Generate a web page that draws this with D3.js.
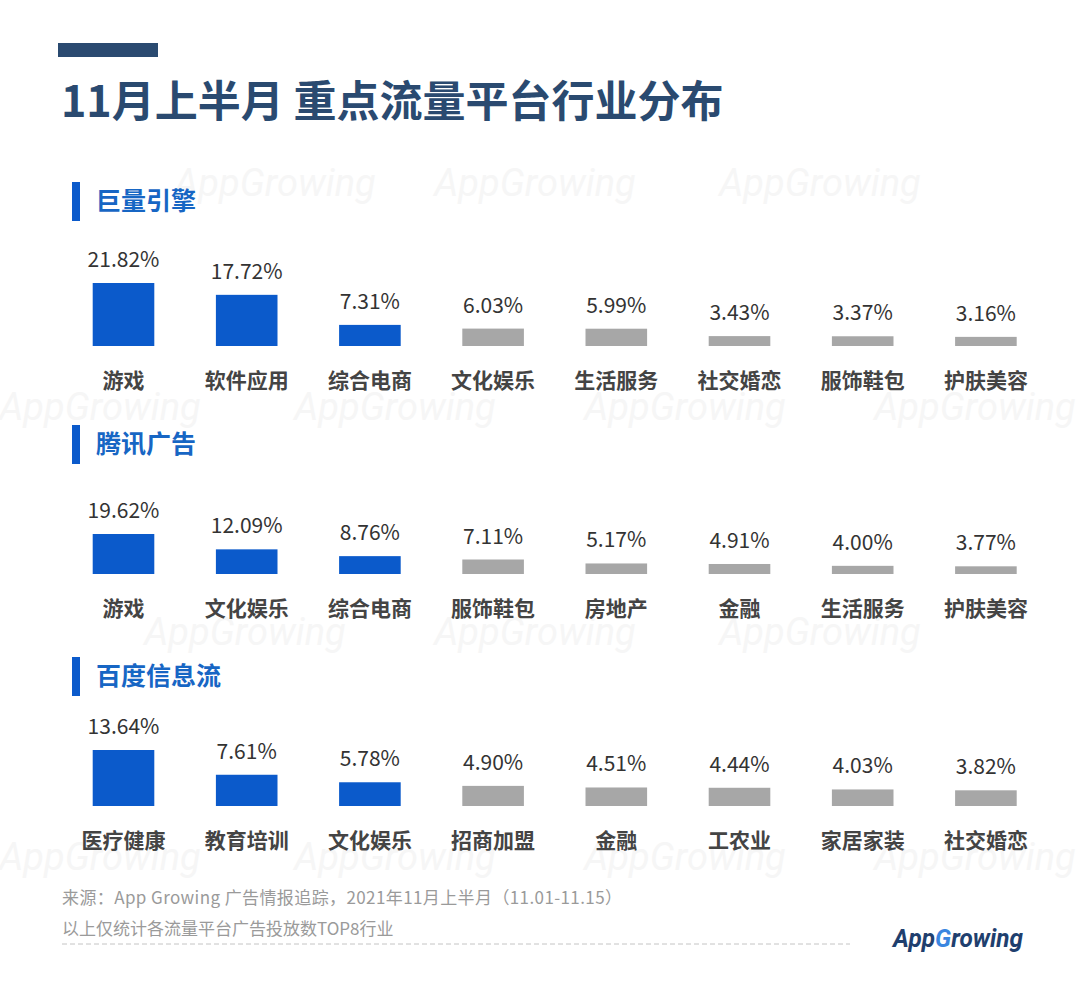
<!DOCTYPE html>
<html>
<head>
<meta charset="utf-8">
<script src="https://cdn.jsdelivr.net/npm/d3@7"></script>
<style>
  body { margin: 0; background: #fff; }
  svg { display: block; font-family: "Noto Sans CJK SC", "Noto Sans", sans-serif; }
</style>
</head>
<body>
<svg id="chart" width="1080" height="987"></svg>
<script>
// Chart data
const panelNames = ['巨量引擎', '腾讯广告', '百度信息流']

const juliangCategories = ['游戏', '软件应用', '综合电商', '文化娱乐', '生活服务', '社交婚恋', '服饰鞋包', '护肤美容']
const juliangValues = [21.82, 17.72, 7.31, 6.03, 5.99, 3.43, 3.37, 3.16]

const tencentCategories = ['游戏', '文化娱乐', '综合电商', '服饰鞋包', '房地产', '金融', '生活服务', '护肤美容']
const tencentValues = [19.62, 12.09, 8.76, 7.11, 5.17, 4.91, 4.00, 3.77]

const baiduCategories = ['医疗健康', '教育培训', '文化娱乐', '招商加盟', '金融', '工农业', '家居家装', '社交婚恋']
const baiduValues = [13.64, 7.61, 5.78, 4.90, 4.51, 4.44, 4.03, 3.82]

const titleText = '11月上半月 重点流量平台行业分布'
const sourceText = '来源：App Growing 广告情报追踪，2021年11月上半月（11.01-11.15）'
const noteText = '以上仅统计各流量平台广告投放数TOP8行业'

const BLUE = '#0b5acb'
const GRAY = '#a7a7a7'
const NAVY = '#2a4a70'

const svg = d3.select('#chart')

// Faint watermark pattern in the background
const marks = svg.append('g').attr('class', 'watermarks')
const markRows = [
    { y: 196, xs: [275, 535, 820] },
    { y: 420, xs: [100, 395, 685, 975] },
    { y: 645, xs: [245, 535, 820] },
    { y: 870, xs: [100, 395, 685, 975] },
]
markRows.forEach(row => {
    row.xs.forEach(x => {
        marks.append('text')
            .attr('x', x).attr('y', row.y)
            .attr('text-anchor', 'middle')
            .attr('font-family', 'Roboto, sans-serif')
            .attr('font-style', 'italic')
            .attr('font-size', 38)
            .attr('fill', '#f6f6f6')
            .text('AppGrowing')
    })
})

// Title
svg.append('rect').attr('x', 58).attr('y', 43).attr('width', 100).attr('height', 14).attr('fill', NAVY)
svg.append('text')
    .attr('x', 61).attr('y', 117)
    .attr('font-size', 43).attr('font-weight', 700)
    .attr('fill', NAVY)
    .text(titleText)

// Shared horizontal band scale
const x = d3.scaleBand()
    .domain(d3.range(8))
    .range([61.9, 1047.5])
    .paddingInner(0.5)
    .paddingOuter(0.25)

const panels = [
    { name: panelNames[0], cats: juliangCategories, vals: juliangValues, headerY: 182, base: 346, maxH: 63 },
    { name: panelNames[1], cats: tencentCategories, vals: tencentValues, headerY: 425, base: 574, maxH: 40 },
    { name: panelNames[2], cats: baiduCategories, vals: baiduValues, headerY: 657, base: 806, maxH: 56 },
]

panels.forEach(p => {
    const g = svg.append('g')

    // Section header
    g.append('rect').attr('x', 72).attr('y', p.headerY).attr('width', 8).attr('height', 39).attr('fill', BLUE)
    g.append('text')
        .attr('x', 96).attr('y', p.headerY + 28)
        .attr('font-size', 25).attr('font-weight', 700)
        .attr('fill', '#1766c4')
        .text(p.name)

    const y = d3.scaleLinear().domain([0, d3.max(p.vals)]).range([0, p.maxH])
    const data = p.vals.map((v, i) => ({ v, i, cat: p.cats[i] }))

    g.selectAll('rect.bar').data(data).enter()
        .append('rect')
        .attr('class', 'bar')
        .attr('x', d => x(d.i))
        .attr('y', d => p.base - y(d.v))
        .attr('width', x.bandwidth())
        .attr('height', d => y(d.v))
        .attr('fill', d => d.i < 3 ? BLUE : GRAY)

    g.selectAll('text.value').data(data).enter()
        .append('text')
        .attr('class', 'value')
        .attr('x', d => x(d.i) + x.bandwidth() / 2)
        .attr('y', d => p.base - y(d.v) - 16)
        .attr('text-anchor', 'middle')
        .attr('font-size', 21)
        .attr('fill', '#333')
        .text(d => d.v.toFixed(2) + '%')

    g.selectAll('text.cat').data(data).enter()
        .append('text')
        .attr('class', 'cat')
        .attr('x', d => x(d.i) + x.bandwidth() / 2)
        .attr('y', p.base + 42)
        .attr('text-anchor', 'middle')
        .attr('font-size', 21)
        .attr('font-weight', 700)
        .attr('fill', '#444')
        .text(d => d.cat)
})

// Footer
svg.append('text')
    .attr('x', 62).attr('y', 904)
    .attr('font-size', 17).attr('fill', '#9a9a9a')
    .attr('textLength', 560).attr('lengthAdjust', 'spacing')
    .text(sourceText)
svg.append('text')
    .attr('x', 62).attr('y', 935)
    .attr('font-size', 17).attr('fill', '#9a9a9a')
    .text(noteText)
svg.append('line')
    .attr('x1', 62).attr('x2', 850).attr('y1', 944).attr('y2', 944)
    .attr('stroke', '#c4c4c4').attr('stroke-width', 1)
    .attr('stroke-dasharray', '5,3')

// Logo
const logo = svg.append('text')
    .attr('x', 893).attr('y', 947)
    .attr('font-family', 'Roboto, sans-serif')
    .attr('font-style', 'italic').attr('font-weight', 700)
    .attr('font-size', 26)
    .attr('textLength', 130).attr('lengthAdjust', 'spacingAndGlyphs')
    .attr('fill', '#1f3f6e')
logo.append('tspan').text('App')
logo.append('tspan').attr('fill', '#3a86e0').text('G')
logo.append('tspan').text('rowing')
</script>
</body>
</html>
